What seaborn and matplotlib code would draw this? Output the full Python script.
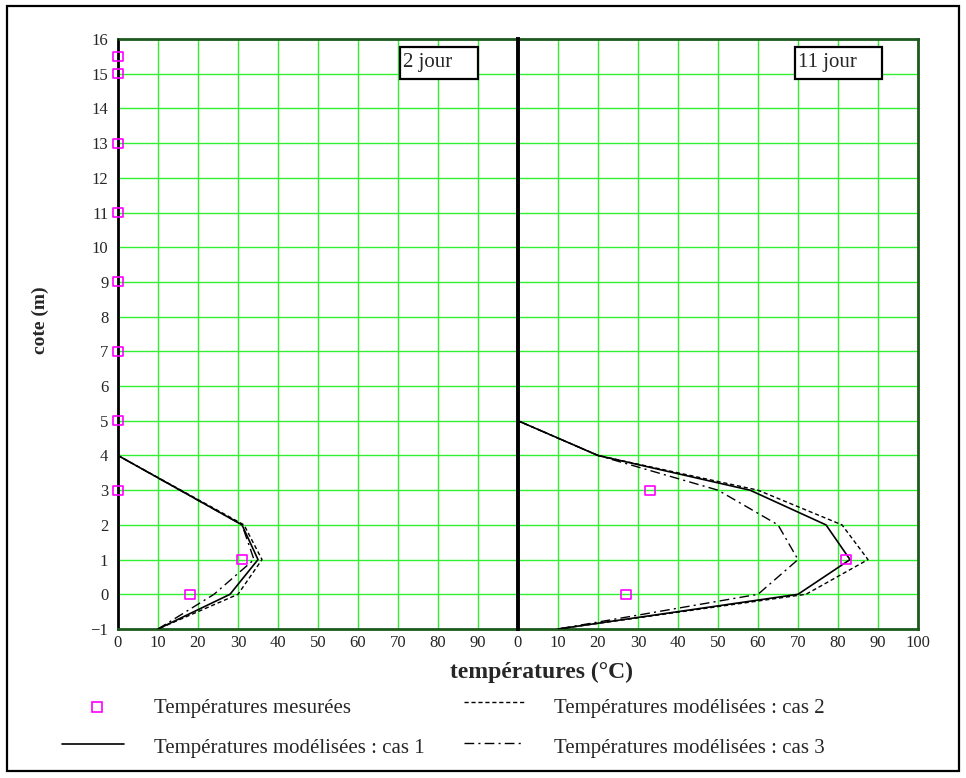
import numpy as np
import pandas as pd
import matplotlib
matplotlib.use("Agg")
import matplotlib.pyplot as plt
import seaborn as sns
from matplotlib.lines import Line2D
from matplotlib.patches import Rectangle

# ---------------- data ----------------
# Day 2 panel
cote_j2 = [16, 4, 2, 1, 0, -1]
cas1_j2 = [0, 0, 31, 35, 28, 10]
cas2_j2 = [0, 0, 31.5, 36, 30, 10]
cas3_j2 = [0, 0, 31, 34, 24, 10]
mes_cote_j2 = [15.5, 15, 13, 11, 9, 7, 5, 3, 1, 0]
mes_temp_j2 = [0, 0, 0, 0, 0, 0, 0, 0, 31, 18]

# Day 11 panel
cote_j11 = [16, 5, 4, 3, 2, 1, 0, -1]
cas1_j11 = [0, 0, 20, 58, 77, 83, 70, 10]
cas2_j11 = [0, 0, 20, 60, 81, 87.5, 72, 10]
cas3_j11 = [0, 0, 20, 50, 65, 70, 60, 10]
mes_cote_j11 = [3, 1, 0]
mes_temp_j11 = [33, 82, 27]

panel_titles = ["2 jour", "11 jour"]
y_ticks = list(range(-1, 17))
x_ticks_left = list(range(0, 100, 10))
x_ticks_right = list(range(0, 101, 10))

legend_labels = ["Températures mesurées", "Températures modélisées : cas 1",
                 "Températures modélisées : cas 2", "Températures modélisées : cas 3"]

# ---------------- style ----------------
sns.set_style("white")
plt.rcParams["font.family"] = ["Liberation Serif", "DejaVu Serif"]

W, H = 966, 778
def fx(px): return px / W
def fy(py): return 1 - py / H

fig = plt.figure(figsize=(W / 100, H / 100), dpi=100)
ax1 = fig.add_axes([fx(118), fy(629), 400 / W, 590 / H])
ax2 = fig.add_axes([fx(518), fy(629), 400 / W, 590 / H], sharey=ax1)

GRID = "#30f030"
FRAME = "#1e5a1e"
MAG = "#ff00ff"
dash2 = (0, (3, 2))
dash3 = (0, (7, 3, 1.5, 3))

panels = [
    (ax1, cote_j2, cas1_j2, cas2_j2, cas3_j2, mes_cote_j2, mes_temp_j2, x_ticks_left),
    (ax2, cote_j11, cas1_j11, cas2_j11, cas3_j11, mes_cote_j11, mes_temp_j11, x_ticks_right),
]

for ax, cote, c1, c2, c3, mc, mt, xt in panels:
    sns.lineplot(x=c2, y=cote, sort=False, estimator=None, color="black",
                 lw=1.0, linestyle=dash2, ax=ax, zorder=3)
    sns.lineplot(x=c3, y=cote, sort=False, estimator=None, color="black",
                 lw=1.0, linestyle=dash3, ax=ax, zorder=3)
    sns.lineplot(x=c1, y=cote, sort=False, estimator=None, color="black",
                 lw=1.2, ax=ax, zorder=4)
    sns.scatterplot(x=mt, y=mc, marker="s", s=42, facecolor="none",
                    edgecolor=MAG, linewidth=1.2, ax=ax, zorder=6, clip_on=False)
    ax.set_xlim(0, 100)
    ax.set_ylim(-1, 16)
    ax.set_xticks(xt)
    ax.set_yticks(y_ticks)
    ax.grid(True, color=GRID, lw=1.0)
    ax.set_axisbelow(True)
    ax.set_xlabel("")
    ax.set_ylabel("")
    ax.tick_params(length=0, labelsize=12, pad=4)
    for s in ("top", "bottom"):
        ax.spines[s].set_color(FRAME)
        ax.spines[s].set_linewidth(2)

ax1.tick_params(axis="y", pad=7)
ax2.tick_params(labelleft=False)
ax1.spines["left"].set_color("black")
ax1.spines["left"].set_linewidth(2)
ax1.spines["right"].set_visible(False)
ax2.spines["left"].set_color("black")
ax2.spines["left"].set_linewidth(2.8)
ax2.spines["left"].set_zorder(7)
ax2.spines["right"].set_color(FRAME)
ax2.spines["right"].set_linewidth(2)

# panel boxes
for (x0, x1), t in zip([(400, 478), (795, 882)], panel_titles):
    fig.add_artist(Rectangle((fx(x0), fy(79)), (x1 - x0) / W, 32 / H,
                             transform=fig.transFigure, fill=True, fc="white",
                             ec="black", lw=1.6, zorder=10))
    fig.text(fx(x0 + 3), fy(63), t, ha="left", va="center", fontsize=15, zorder=11)

# axis labels
fig.text(fx(541), fy(672), "températures (°C)", ha="center", va="center",
         fontsize=17, fontweight="bold")
fig.text(fx(40), fy(320), "cote (m)", ha="center", va="center",
         fontsize=14, fontweight="bold", rotation=90)

# legend (manual)
fig.add_artist(Line2D([fx(97)], [fy(707)], marker="s", ms=6.5, mfc="none",
                      mec=MAG, mew=1.2, ls="none", transform=fig.transFigure))
fig.add_artist(Line2D([fx(62), fx(124)], [fy(744), fy(744)], color="black",
                      lw=1.2, transform=fig.transFigure))
fig.add_artist(Line2D([fx(464), fx(524)], [fy(702), fy(702)], color="black",
                      lw=1.0, linestyle=dash2, transform=fig.transFigure))
fig.add_artist(Line2D([fx(464), fx(524)], [fy(743), fy(743)], color="black",
                      lw=1.0, linestyle=dash3, transform=fig.transFigure))
leg_pos = [(154, 709), (154, 749), (554, 709), (554, 749)]
for (px, py), lab in zip(leg_pos, legend_labels):
    fig.text(fx(px), fy(py), lab, ha="left", va="center", fontsize=15)

# outer frame
fig.add_artist(Rectangle((fx(7), fy(771)), (959 - 7) / W, (771 - 6) / H,
                         transform=fig.transFigure, fill=False, ec="black", lw=1.6))

fig.savefig("out.png", dpi=100)
